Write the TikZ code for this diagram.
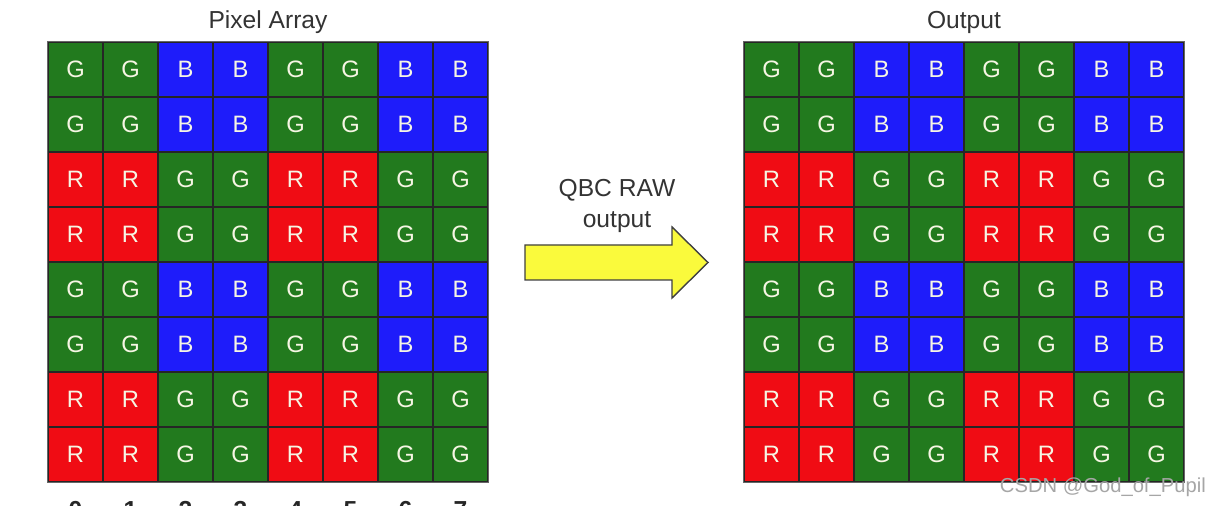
\documentclass[tikz,border=0pt]{standalone}
\usepackage{fontspec}
\setmainfont{Liberation Sans}
\usetikzlibrary{positioning}
\definecolor{PixGreen}{RGB}{34,122,30}
\definecolor{PixBlue}{RGB}{30,28,250}
\definecolor{PixRed}{RGB}{240,12,20}
\definecolor{PixText}{RGB}{246,246,228}
\definecolor{ArrowYellow}{RGB}{250,250,60}
\tikzset{
  pix/.style={draw=black!85,line width=0.8pt,minimum size=1.1cm,inner sep=0pt,
    text=PixText,font=\fontsize{13.5}{16}\selectfont},
  pixG/.style={pix,fill=PixGreen},
  pixB/.style={pix,fill=PixBlue},
  pixR/.style={pix,fill=PixRed},
  title/.style={font=\fontsize{14}{17}\selectfont,text=black!80}
}
% one 8x8 quad Bayer array, #1 = name prefix, #2 = left edge
\newcommand{\pixelarray}[2]{%
  \foreach \row [count=\r from 0] in {{G,G,B,B,G,G,B,B},{G,G,B,B,G,G,B,B},
      {R,R,G,G,R,R,G,G},{R,R,G,G,R,R,G,G},{G,G,B,B,G,G,B,B},{G,G,B,B,G,G,B,B},
      {R,R,G,G,R,R,G,G},{R,R,G,G,R,R,G,G}}
    \foreach \l [count=\c from 0] in \row
      \node[pix\l] (#1-\r-\c) at ({#2+55*\c+27.5},{42+55*\r+27.5}) {\l};
  \draw[black!60,line width=0.8pt] (#1-0-0.north west) rectangle (#1-7-7.south east);}

\begin{document}
\begin{tikzpicture}[x=0.02cm,y=-0.02cm]
  \clip (0,0) rectangle (1214,506);
  \fill[white] (0,0) rectangle (1214,506);
  \pixelarray{L}{48}
  \pixelarray{R}{744}
  \node[title] (pixtitle) at (268,22) {Pixel Array};
  \node[title] (outtitle) at (964,22) {Output};
  % column indices, cut by the lower edge
  \foreach \c in {0,...,7}
    \node[font=\bfseries\fontsize{14}{17}\selectfont,text=black!85] (col-\c)
      at ({48+55*\c+27.5},510) {\c};
  % conversion arrow
  \node[title,align=center,font=\fontsize{14}{18}\selectfont] (qbc) at (617,206)
    {QBC RAW\\output};
  \draw[fill=ArrowYellow,draw=black!75,line width=0.8pt]
    (525,245) -- (672,245) -- (672,227) -- (708,262.5) -- (672,298)
    -- (672,280) -- (525,280) -- cycle;
  \node[anchor=east,text=black!35,font=\fontsize{11.5}{14}\selectfont] (csdn)
    at (1212,487) {CSDN @God\_of\_Pupil};
\end{tikzpicture}
\end{document}
